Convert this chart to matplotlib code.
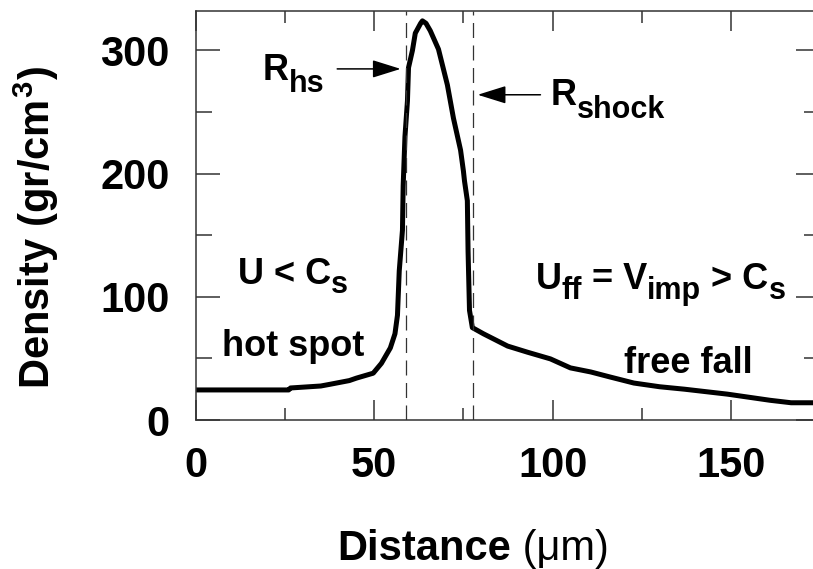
import matplotlib.pyplot as plt
from matplotlib.ticker import MultipleLocator

distance = [0, 26, 26.5, 35, 37.6, 43, 45, 49.7, 52, 54.5, 55.8, 56.5, 57.0,
            57.9, 58.1, 58.6, 59.3, 59.6, 60.7, 61.5, 63.0, 63.5, 64.5, 65.7,
            68.0, 70.5, 72.2, 74.2, 75.0, 75.3, 76.1, 76.3, 76.7, 77.5, 80.6,
            87.4, 93, 99.4, 105, 110.7, 116, 122.8, 130, 137, 143, 149, 155,
            161, 166.9, 175]
density = [24.4, 24.4, 26, 27.6, 29, 32, 34, 38, 46, 58.5, 70, 85, 121,
           154, 190, 230, 259, 286, 300, 314, 322, 324, 322, 316,
           301, 272, 245, 219, 202, 194, 178, 137, 89, 75, 70,
           60, 55, 49.6, 42.3, 39, 35, 30, 27, 25, 23, 21, 18.5,
           16, 14, 14]

r_hs = 59.0
r_shock = 77.8
xticks = [0, 50, 100, 150]
yticks = [0, 100, 200, 300]

plt.rcParams['font.family'] = 'Liberation Sans'
plt.rcParams['font.weight'] = 'bold'
plt.rcParams['mathtext.fontset'] = 'custom'
plt.rcParams['mathtext.rm'] = 'Liberation Sans:bold'
plt.rcParams['mathtext.it'] = 'Liberation Sans:bold'
plt.rcParams['mathtext.bf'] = 'Liberation Sans:bold'

fig = plt.figure(figsize=(8.13, 5.69), dpi=100)
ax = fig.add_axes([196/813, 1-420/569, 624/813, 409/569])

ax.plot(distance, density, color='black', lw=3.6, solid_joinstyle='round')
for xv in (r_hs, r_shock):
    ax.axvline(xv, color='#333333', lw=0.9, dashes=(12, 6))

ax.set_xlim(0, 175)
ax.set_ylim(0, 332)
ax.set_xticks(xticks)
ax.set_yticks(yticks)
ax.xaxis.set_minor_locator(MultipleLocator(25))
ax.yaxis.set_minor_locator(MultipleLocator(50))
ax.tick_params(which='both', direction='in', top=True, right=True,
               color='#333333', width=1.1, labelsize=30, pad=19)
ax.tick_params(axis='x', which='major', length=14.5)
ax.tick_params(axis='x', which='minor', length=8.6)
ax.tick_params(axis='y', which='major', length=17)
ax.tick_params(axis='y', which='minor', length=11.5)
for s in ax.spines.values():
    s.set_color('#333333')
    s.set_linewidth(1.1)


def label(x, y, parts, size=26, subsize=22):
    # parts: (text, drop in points); drop > 0 makes a subscript
    t = ax.text(x, y, parts[0][0], fontsize=size, va='baseline')
    for s, drop in parts[1:]:
        t = ax.annotate(s, xy=(1, y), xycoords=(t, 'data'),
                        xytext=(0, -drop), textcoords='offset points',
                        fontsize=subsize if drop else size, va='baseline')


arrow = dict(arrowstyle='-|>,head_length=0.8,head_width=0.25',
             mutation_scale=22, lw=1.1, color='black', shrinkA=0, shrinkB=0)

label(18.8, 276, [('R', 0), ('hs', 9)])
ax.annotate('', xy=(57.4, 285), xytext=(39.6, 285), arrowprops=arrow)
label(99.4, 255.3, [('R', 0), ('shock', 9)])
ax.annotate('', xy=(79.0, 264), xytext=(96.6, 264), arrowprops=arrow)
label(11.8, 110.6, [('U', 0), (' < C', 0), ('s', 7)])
ax.text(7.3, 52, 'hot spot', fontsize=26, va='baseline')
label(95.2, 106.5, [('U', 0), ('ff', 7), (' = V', 0), ('imp', 7),
                    (' > C', 0), ('s', 7)])
ax.text(120, 38.2, 'free fall', fontsize=26, va='baseline')

# axis labels
t = fig.text(337/813, 1-560/569, 'Distance', fontsize=30, va='baseline')
ax.annotate(' (\u03bcm)', xy=(1, 1-560/569), xycoords=(t, 'figure fraction'),
            fontsize=30, fontweight='normal', va='baseline', ha='left')
fig.text(36/813, 1-228/569, r'$Density\ (gr/cm^3)$', fontsize=30,
         rotation=90, ha='center', va='center')

fig.savefig('out.png', dpi=100)
